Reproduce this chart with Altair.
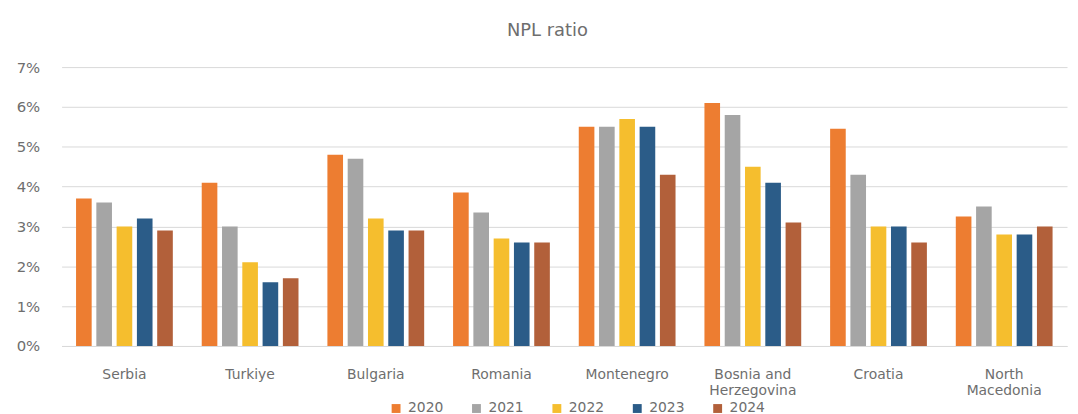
import altair as alt
import pandas as pd

countries = ["Serbia", "Turkiye", "Bulgaria", "Romania", "Montenegro",
             "Bosnia and|Herzegovina", "Croatia", "North|Macedonia"]
years = ["2020", "2021", "2022", "2023", "2024"]
v2020 = [3.7, 4.1, 4.8, 3.85, 5.5, 6.1, 5.45, 3.25]
v2021 = [3.6, 3.0, 4.7, 3.35, 5.5, 5.8, 4.3, 3.5]
v2022 = [3.0, 2.1, 3.2, 2.7, 5.7, 4.5, 3.0, 2.8]
v2023 = [3.2, 1.6, 2.9, 2.6, 5.5, 4.1, 3.0, 2.8]
v2024 = [2.9, 1.7, 2.9, 2.6, 4.3, 3.1, 2.6, 3.0]
colors = ["#ED7D31", "#A5A5A5", "#F5BE2E", "#2B5C88", "#B2603A"]

rows = []
for y, vals in zip(years, [v2020, v2021, v2022, v2023, v2024]):
    for c, v in zip(countries, vals):
        rows.append({"country": c, "year": y, "value": v / 100})
df = pd.DataFrame(rows)

font = "DejaVu Sans"
gray = "#6E6E6E"

chart = alt.Chart(df).mark_bar().encode(
    x=alt.X("country:N", sort=countries,
            scale=alt.Scale(paddingInner=0.23, paddingOuter=0.115),
            axis=alt.Axis(title=None, labelAngle=0, ticks=False, domain=True,
                          domainColor="#D9D9D9", labelExpr="split(datum.value, '|')",
                          labelFont=font, labelFontSize=14, labelColor=gray,
                          labelPadding=22, labelLineHeight=16)),
    xOffset=alt.XOffset("year:N", sort=years, scale=alt.Scale(paddingInner=0.23, paddingOuter=0)),
    y=alt.Y("value:Q", scale=alt.Scale(domain=[0, 0.07], nice=False),
            axis=alt.Axis(title=None, format=".0%", values=[0, 0.01, 0.02, 0.03, 0.04, 0.05, 0.06, 0.07],
                          ticks=False, domain=False, gridColor="#D9D9D9",
                          labelFont=font, labelFontSize=15, labelColor=gray,
                          labelPadding=22)),
    color=alt.Color("year:N", sort=years, scale=alt.Scale(domain=years, range=colors),
                    legend=alt.Legend(title=None, orient="none", direction="horizontal",
                                      legendX=330, legendY=337, symbolType="square",
                                      symbolSize=80, symbolStrokeWidth=0,
                                      labelFont=font, labelFontSize=14, labelColor=gray,
                                      columnPadding=26, labelOffset=5)),
).properties(
    width=1013, height=281,
    title=alt.TitleParams("NPL ratio", font=font, fontSize=18, color=gray,
                          fontWeight="normal", anchor="middle", dx=-17, offset=20),
    padding={"left": 54, "top": 58, "right": 3, "bottom": 67},
    autosize=alt.AutoSizeParams(type="none"),
).configure_view(stroke=None)

chart.save("out.html", embed_options={"renderer": "svg", "actions": False})
